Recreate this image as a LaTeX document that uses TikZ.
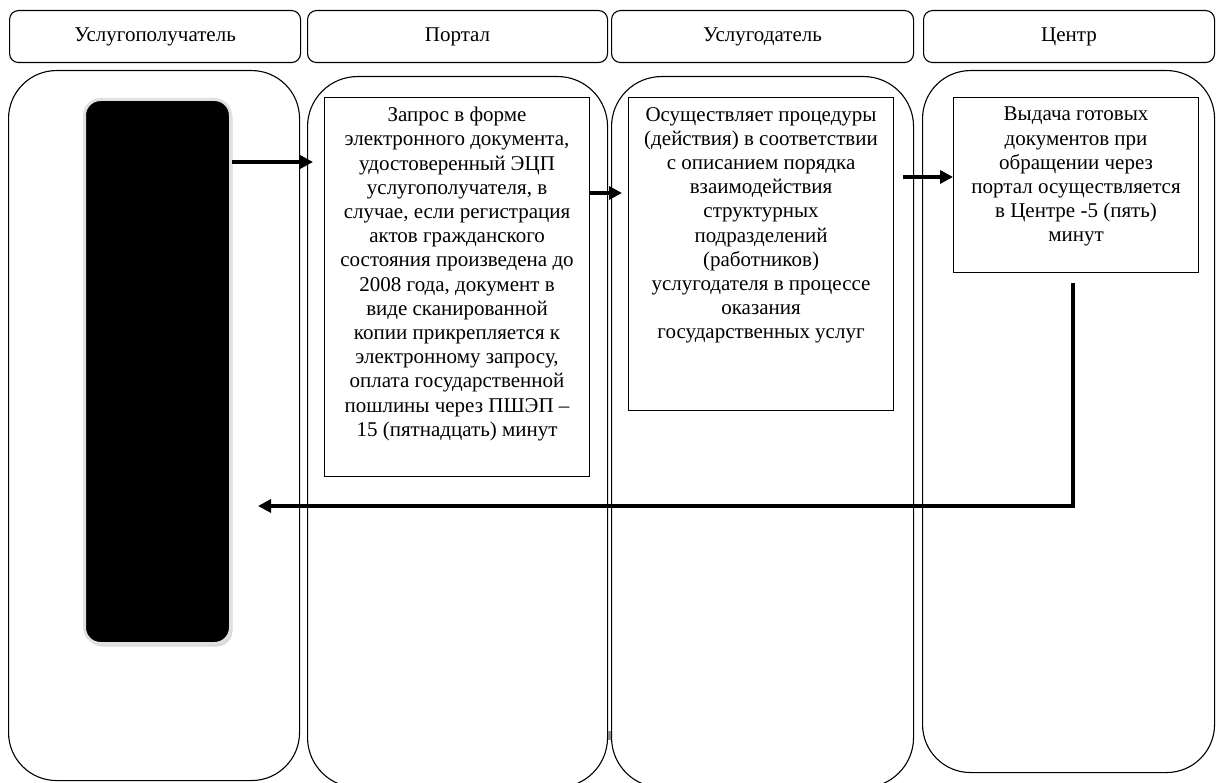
\documentclass[tikz,border=0pt]{standalone}
\usepackage{fontspec}
\setmainfont{Liberation Serif}
\usepackage{tikz}
\usetikzlibrary{calc}
\usetikzlibrary{positioning}
\usetikzlibrary{arrows.meta}
\usetikzlibrary{shadows}

\tikzset{
  lanehead/.style={draw, rounded corners=9pt, line width=1.1pt, inner sep=0pt,
    anchor=north west, font=\fontsize{21}{24.2}\selectfont},
  lane/.style={draw, rounded corners=48pt, line width=1.1pt, inner sep=0pt, anchor=north west},
  procbox/.style={draw, line width=1.1pt, inner sep=0pt, anchor=north west},
  boxtext/.style={align=center, inner sep=0pt, font=\fontsize{21}{24.2}\selectfont},
  flow/.style={->, line width=3.4pt},
}

\begin{document}
\begin{tikzpicture}[>={Triangle[length=13pt,width=13pt]}, x=1pt, y=-1pt]
      \useasboundingbox (0,0) rectangle (1216,783);
      \clip (0,0) rectangle (1216,783);

      % Column headers
      \node[lanehead, minimum width=291pt, minimum height=52pt] (hRecip) at (9,10) {Услугополучатель};
      \node[lanehead, minimum width=300pt, minimum height=52pt] (hPortal) at (307,10) {Портал};
      \node[lanehead, minimum width=302pt, minimum height=52pt] (hGiver) at (611,10) {Услугодатель};
      \node[lanehead, minimum width=291pt, minimum height=52pt] (hCenter) at (923,10) {Центр};

      % Swim lanes
      \node[lane, minimum width=291pt, minimum height=710pt] (lRecip) at (8,70) {};
      \node[lane, rounded corners=50pt, minimum width=300pt, minimum height=711pt] (lPortal) at (307,76) {};
      \node[lane, rounded corners=50pt, minimum width=302pt, minimum height=711pt] (lGiver) at (611,76) {};
      \node[lane, minimum width=292pt, minimum height=702pt] (lCenter) at (922,70) {};
      \fill[black!45] (607.5,731) rectangle (610.5,740);

      % The service recipient
      \node[anchor=north west, minimum width=146pt, minimum height=544pt, inner sep=0pt,
        rounded corners=16pt, fill=black, draw=black!12, line width=3pt,
        drop shadow={opacity=0.3, shadow xshift=2pt, shadow yshift=-3pt}] (client) at (83,98) {};

      % Process steps
      \node[procbox, minimum width=265pt, minimum height=379pt] (portal) at (324,97) {};
      \node[procbox, minimum width=265pt, minimum height=313pt] (giver) at (628,97) {};
      \node[procbox, minimum width=245pt, minimum height=175pt] (center) at (953,97) {};

      \node[boxtext, below=10pt of portal.north] (tPortal) {Запрос в форме\\
        электронного документа,\\
        удостоверенный ЭЦП\\
        услугополучателя, в\\
        случае, если регистрация\\
        актов гражданского\\
        состояния произведена до\\
        2008 года, документ в\\
        виде сканированной\\
        копии прикрепляется к\\
        электронному запросу,\\
        оплата государственной\\
        пошлины через ПШЭП –\\
        15 (пятнадцать) минут};
      \node[boxtext, below=10pt of giver.north] (tGiver) {Осуществляет процедуры\\
        (действия) в соответствии\\
        с описанием порядка\\
        взаимодействия\\
        структурных\\
        подразделений\\
        (работников)\\
        услугодателя в процессе\\
        оказания\\
        государственных услуг};
      \node[boxtext, below=10pt of center.north] (tCenter) {Выдача готовых\\
        документов при\\
        обращении через\\
        портал осуществляется\\
        в Центре -5 (пять)\\
        минут};

      % Arrows between the steps
      \coordinate (y1) at (0,162);
      \coordinate (y2) at (0,193);
      \coordinate (y3) at (0,177);
      \coordinate (turn) at (1073,506);
      \draw[flow, shorten >=11pt] (client.east |- y1) -- (portal.west |- y1);
      \draw[flow, shorten >=6pt] (portal.east |- y2) -- (giver.west |- y2);
      \draw[flow, shorten <=9pt] (giver.east |- y3) -- (center.west |- y3);

      % Result goes back to the recipient
      \draw[flow, shorten <=10pt, shorten >=26pt] (center.south -| turn) -- (turn) -- (client.east |- turn);
\end{tikzpicture}
\end{document}
